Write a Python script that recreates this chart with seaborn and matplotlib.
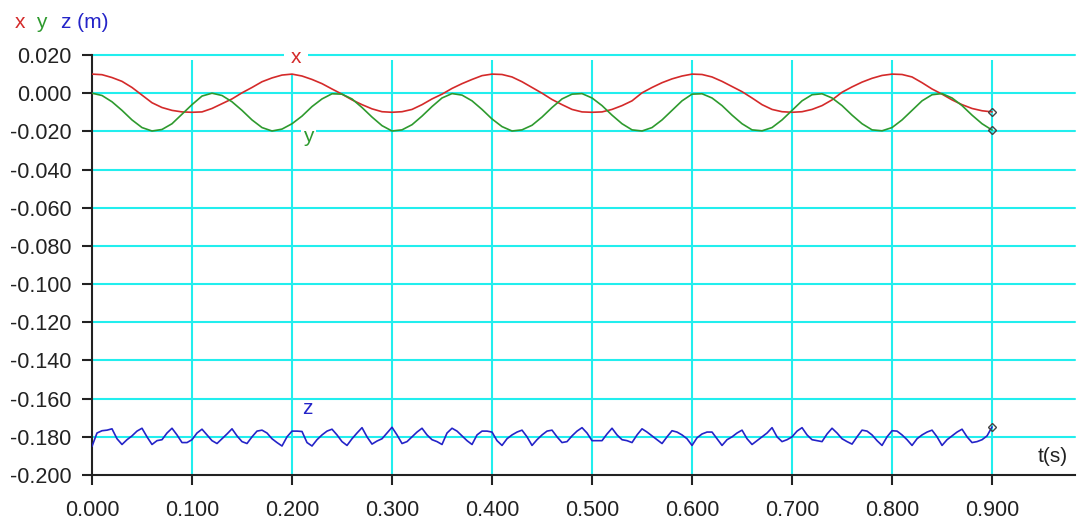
import matplotlib
matplotlib.use("Agg")
import matplotlib.pyplot as plt
import numpy as np
import pandas as pd
import seaborn as sns

# Sample times (s)
t_xy = [round(0.01 * i, 3) for i in range(91)]
t_z = [round(0.005 * i, 4) for i in range(181)]

# Position components (m)
x_pos = [
    0.0100, 0.0097, 0.0082, 0.0062, 0.0030, -0.0010, -0.0050, -0.0075, -0.0090, -0.0098,
    -0.0100, -0.0098, -0.0080, -0.0055, -0.0030, 0.0002, 0.0030, 0.0060, 0.0080, 0.0095,
    0.0100, 0.0090, 0.0072, 0.0050, 0.0022, -0.0005, -0.0035, -0.0060, -0.0082, -0.0097,
    -0.0100, -0.0097, -0.0085, -0.0060, -0.0030, -0.0005, 0.0025, 0.0050, 0.0072, 0.0092,
    0.0100, 0.0098, 0.0085, 0.0060, 0.0030, 0.0000, -0.0033, -0.0060, -0.0085, -0.0098,
    -0.0100, -0.0098, -0.0085, -0.0065, -0.0040, 0.0002, 0.0030, 0.0055, 0.0075, 0.0090,
    0.0100, 0.0098, 0.0085, 0.0062, 0.0035, 0.0008, -0.0025, -0.0060, -0.0085, -0.0097,
    -0.0100, -0.0097, -0.0085, -0.0065, -0.0035, 0.0005, 0.0033, 0.0058, 0.0078, 0.0093,
    0.0100, 0.0098, 0.0085, 0.0055, 0.0022, -0.0005, -0.0035, -0.0060, -0.0080, -0.0092,
    -0.0098,
]
y_pos = [
    0.0000, -0.0012, -0.0045, -0.0090, -0.0140, -0.0180, -0.0198, -0.0190, -0.0160, -0.0110,
    -0.0060, -0.0015, 0.0000, -0.0012, -0.0045, -0.0090, -0.0140, -0.0180, -0.0198, -0.0188,
    -0.0160, -0.0120, -0.0070, -0.0030, -0.0003, -0.0005, -0.0030, -0.0075, -0.0125, -0.0170,
    -0.0198, -0.0192, -0.0165, -0.0120, -0.0070, -0.0025, -0.0002, -0.0010, -0.0040, -0.0085,
    -0.0135, -0.0175, -0.0198, -0.0192, -0.0168, -0.0125, -0.0075, -0.0030, -0.0005, -0.0002,
    -0.0025, -0.0065, -0.0115, -0.0160, -0.0192, -0.0198, -0.0180, -0.0140, -0.0090, -0.0040,
    -0.0005, -0.0003, -0.0025, -0.0065, -0.0115, -0.0160, -0.0192, -0.0197, -0.0180, -0.0140,
    -0.0090, -0.0040, -0.0008, -0.0003, -0.0025, -0.0065, -0.0115, -0.0160, -0.0192, -0.0197,
    -0.0180, -0.0140, -0.0090, -0.0040, -0.0008, -0.0002, -0.0025, -0.0065, -0.0115, -0.0160,
    -0.0193,
]
z_pos = [
    -0.1850, -0.1780, -0.1768, -0.1765, -0.1758, -0.1810, -0.1840, -0.1815, -0.1795, -0.1770,
    -0.1755, -0.1800, -0.1840, -0.1820, -0.1815, -0.1780, -0.1755, -0.1790, -0.1830, -0.1830,
    -0.1815, -0.1780, -0.1760, -0.1790, -0.1820, -0.1835, -0.1810, -0.1785, -0.1758, -0.1795,
    -0.1825, -0.1835, -0.1800, -0.1770, -0.1765, -0.1780, -0.1810, -0.1830, -0.1848, -0.1800,
    -0.1770, -0.1770, -0.1772, -0.1830, -0.1848, -0.1815, -0.1790, -0.1770, -0.1760, -0.1790,
    -0.1825, -0.1845, -0.1810, -0.1780, -0.1752, -0.1800, -0.1838, -0.1822, -0.1810, -0.1780,
    -0.1750, -0.1790, -0.1835, -0.1825, -0.1800, -0.1775, -0.1755, -0.1790, -0.1815, -0.1825,
    -0.1840, -0.1780, -0.1755, -0.1770, -0.1795, -0.1820, -0.1840, -0.1790, -0.1770, -0.1770,
    -0.1775, -0.1820, -0.1845, -0.1810, -0.1790, -0.1775, -0.1765, -0.1800, -0.1845, -0.1815,
    -0.1790, -0.1770, -0.1765, -0.1800, -0.1830, -0.1825, -0.1795, -0.1770, -0.1752, -0.1780,
    -0.1820, -0.1820, -0.1820, -0.1785, -0.1755, -0.1790, -0.1815, -0.1820, -0.1830, -0.1790,
    -0.1758, -0.1775, -0.1795, -0.1815, -0.1835, -0.1800, -0.1768, -0.1775, -0.1790, -0.1810,
    -0.1845, -0.1805, -0.1785, -0.1775, -0.1775, -0.1810, -0.1845, -0.1815, -0.1800, -0.1780,
    -0.1765, -0.1810, -0.1840, -0.1820, -0.1800, -0.1780, -0.1752, -0.1800, -0.1825, -0.1815,
    -0.1800, -0.1770, -0.1752, -0.1790, -0.1815, -0.1820, -0.1825, -0.1785, -0.1755, -0.1780,
    -0.1810, -0.1825, -0.1838, -0.1800, -0.1765, -0.1770, -0.1790, -0.1820, -0.1845, -0.1800,
    -0.1768, -0.1770, -0.1790, -0.1815, -0.1845, -0.1810, -0.1790, -0.1775, -0.1765, -0.1800,
    -0.1845, -0.1815, -0.1795, -0.1775, -0.1760, -0.1800, -0.1830, -0.1825, -0.1815, -0.1795,
    -0.1748,
]

x_ticks = [0.0, 0.1, 0.2, 0.3, 0.4, 0.5, 0.6, 0.7, 0.8, 0.9]
x_tick_labels = ["0.000", "0.100", "0.200", "0.300", "0.400", "0.500",
                 "0.600", "0.700", "0.800", "0.900"]
y_ticks = [0.02, 0.0, -0.02, -0.04, -0.06, -0.08, -0.10, -0.12,
           -0.14, -0.16, -0.18, -0.20]
y_tick_labels = ["0.020", "0.000", "-0.020", "-0.040", "-0.060", "-0.080",
                 "-0.100", "-0.120", "-0.140", "-0.160", "-0.180", "-0.200"]

RED, GREEN, BLUE = "#d42a2a", "#2e9a2e", "#2424c8"
CYAN = "#22eeee"

sns.set_theme(style="white")
plt.rcParams["font.family"] = ["Liberation Sans", "DejaVu Sans"]

df = pd.concat([
    pd.DataFrame({"t": t_xy, "pos": x_pos, "comp": "x"}),
    pd.DataFrame({"t": t_xy, "pos": y_pos, "comp": "y"}),
    pd.DataFrame({"t": t_z, "pos": z_pos, "comp": "z"}),
], ignore_index=True)

fig = plt.figure(figsize=(10.81, 5.20), dpi=100)
ax = fig.add_axes([0.0851, 0.0865, 0.9094, 0.8077])
ax.set_xlim(0.0, 0.983)
ax.set_ylim(-0.20, 0.020)

# Grid
for yv in y_ticks[:-1]:
    ax.axhline(yv, color=CYAN, lw=1.5, zorder=0, clip_on=False)
ax.vlines(x_ticks[1:], -0.20, 0.0174, color=CYAN, lw=1.5, zorder=0)

sns.lineplot(data=df, x="t", y="pos", hue="comp",
             palette={"x": RED, "y": GREEN, "z": BLUE},
             lw=1.2, legend=False, ax=ax, zorder=3)

# End-point markers
ax.plot([t_xy[-1], t_xy[-1], t_z[-1]], [x_pos[-1], y_pos[-1], z_pos[-1]],
        ls="none", marker="D", ms=4, mfc="none", mec="#444444", mew=1.0, zorder=4)

# Curve labels
ax.text(0.204, 0.0188, "x", color=RED, fontsize=15, ha="center", va="center",
        zorder=2, bbox=dict(facecolor="white", edgecolor="none", pad=5))
ax.text(0.2165, -0.0229, "y", color=GREEN, fontsize=15, ha="center", va="center",
        zorder=2, bbox=dict(facecolor="white", edgecolor="none", pad=2))
ax.text(0.2155, -0.1654, "z", color=BLUE, fontsize=15, ha="center", va="center",
        zorder=2)
ax.text(0.961, -0.1905, "t(s)", color="#222222", fontsize=15, ha="center",
        va="center")

# Axis title in component colours
fig.text(15 / 1081, 1 - 28 / 520, "x", color=RED, fontsize=15, ha="left", va="baseline")
fig.text(36 / 1081, 1 - 28 / 520, "y", color=GREEN, fontsize=15, ha="left", va="baseline")
fig.text(61 / 1081, 1 - 28 / 520, "z (m)", color=BLUE, fontsize=15, ha="left", va="baseline")

ax.set_xticks(x_ticks)
ax.set_xticklabels(x_tick_labels)
ax.set_yticks(y_ticks)
ax.set_yticklabels(y_tick_labels)
ax.set_xlabel("")
ax.set_ylabel("")
ax.tick_params(axis="both", direction="out", length=7, width=1.5, color="#222222",
               labelsize=15.5, labelcolor="#222222")
ax.tick_params(axis="y", left=True, pad=8)
ax.tick_params(axis="x", bottom=True, pad=11)

for side in ("top", "right"):
    ax.spines[side].set_visible(False)
for side in ("left", "bottom"):
    ax.spines[side].set_color("#222222")
    ax.spines[side].set_linewidth(1.5)

fig.savefig("out.png", dpi=100, facecolor="white")
